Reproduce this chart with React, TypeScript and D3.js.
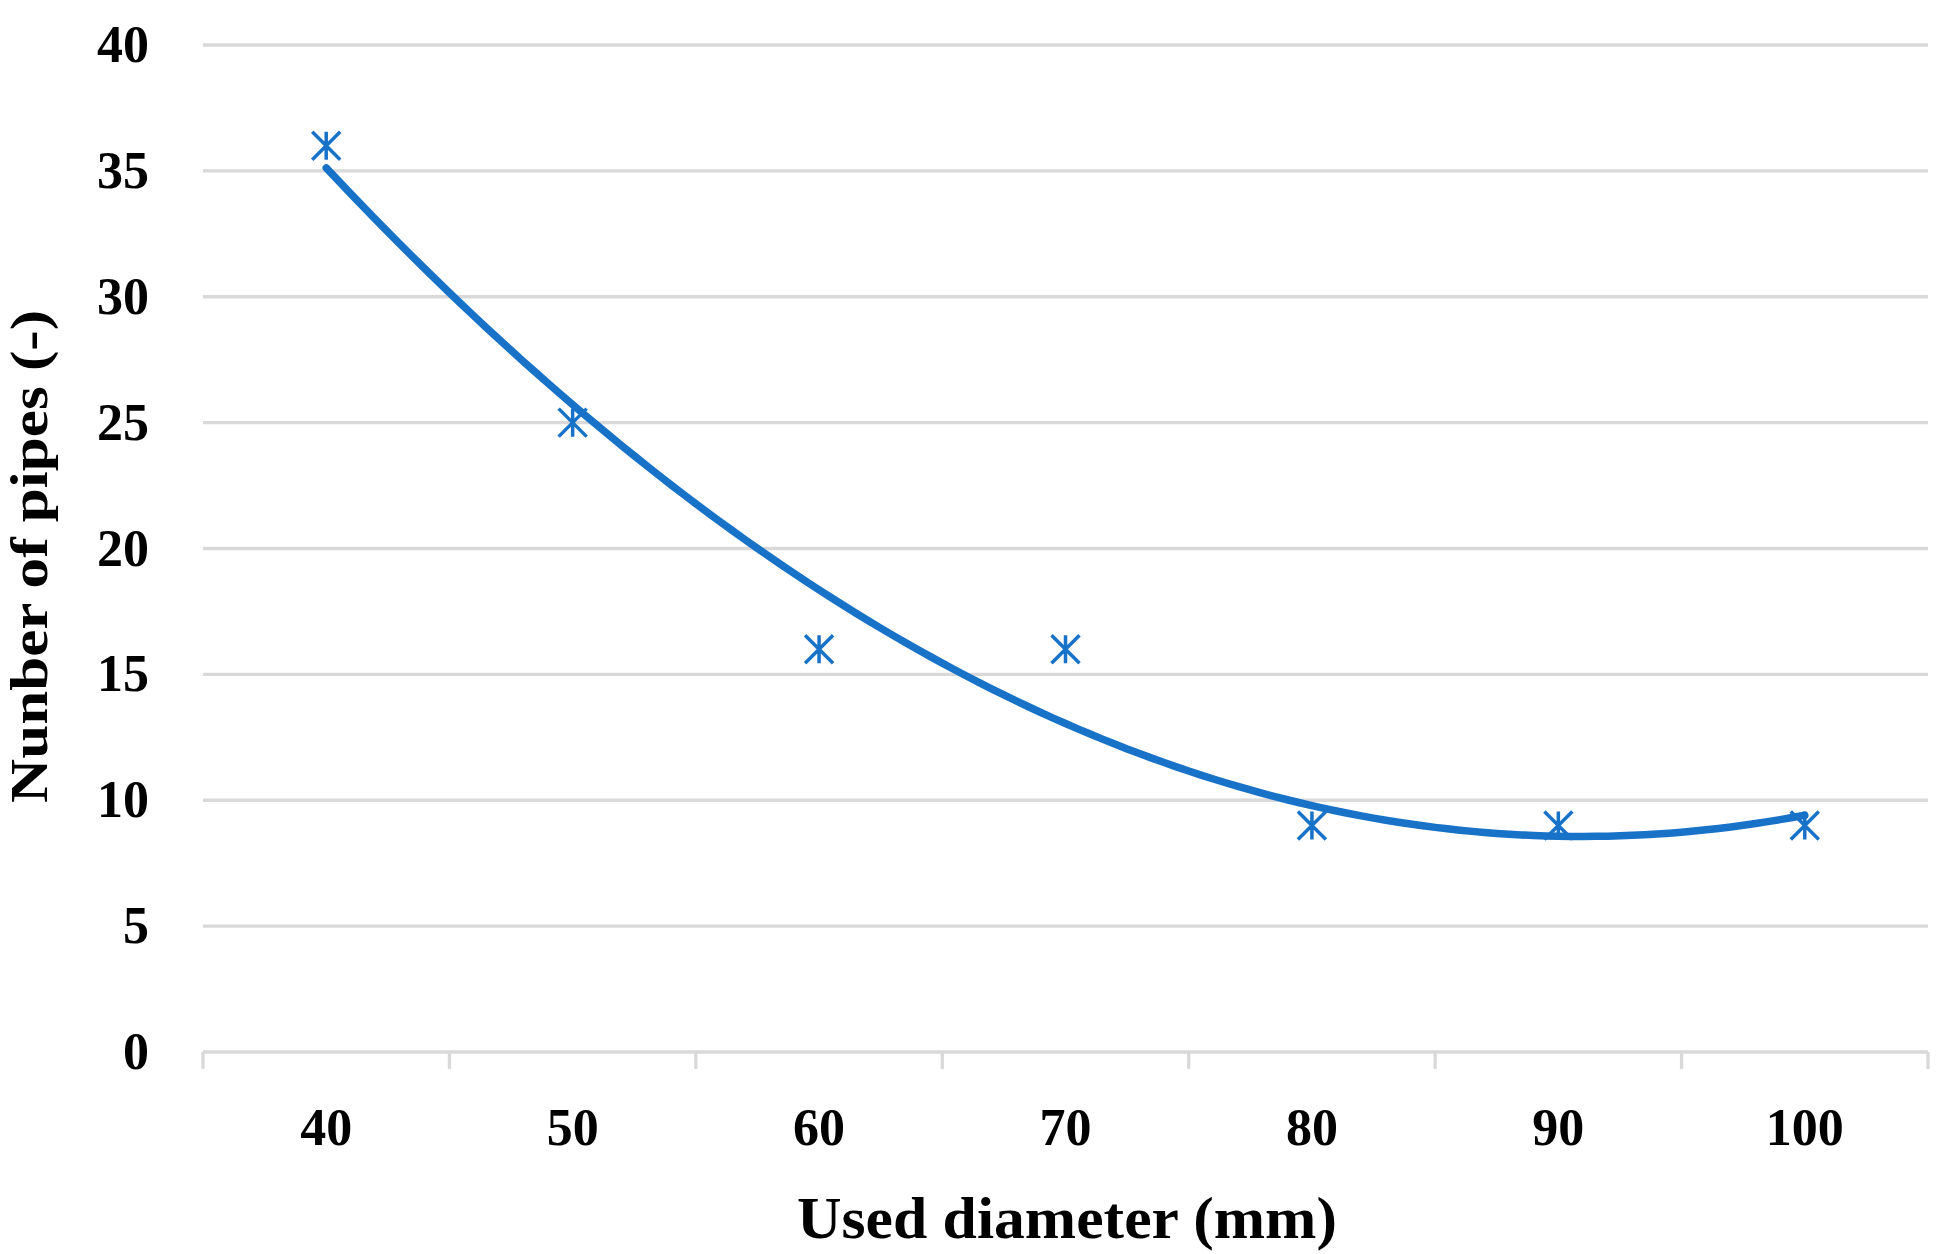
import React from "react";
import * as d3 from "d3";

const categories = ["40", "50", "60", "70", "80", "90", "100"];
const pipes = [36, 25, 16, 16, 9, 9, 9];
const yTicks = [0, 5, 10, 15, 20, 25, 30, 35, 40];
const xTitle = "Used diameter (mm)";
const yTitle = "Nunber of pipes (-)";

const W = 1943;
const H = 1254;
const left = 203;
const right = 1928;
const top = 45;
const bottom = 1052;
const BLUE = "#1872C8";
const GRID = "#D9D9D9";
const FONT = "'Liberation Serif', 'Times New Roman', serif";

// quadratic least-squares trendline (Excel polynomial order 2), x = category index 1..n
function polyFit2(ys: number[]) {
  const xs = ys.map((_, i) => i + 1);
  let s0 = 0, s1 = 0, s2 = 0, s3 = 0, s4 = 0, t0 = 0, t1 = 0, t2 = 0;
  xs.forEach((x, i) => {
    const y = ys[i];
    s0 += 1; s1 += x; s2 += x * x; s3 += x ** 3; s4 += x ** 4;
    t0 += y; t1 += x * y; t2 += x * x * y;
  });
  const M = [
    [s0, s1, s2, t0],
    [s1, s2, s3, t1],
    [s2, s3, s4, t2],
  ];
  for (let i = 0; i < 3; i++) {
    for (let k = i + 1; k < 3; k++) {
      const f = M[k][i] / M[i][i];
      for (let j = i; j < 4; j++) M[k][j] -= f * M[i][j];
    }
  }
  const c = [0, 0, 0];
  for (let i = 2; i >= 0; i--) {
    let s = M[i][3];
    for (let j = i + 1; j < 3; j++) s -= M[i][j] * c[j];
    c[i] = s / M[i][i];
  }
  return (x: number) => c[0] + c[1] * x + c[2] * x * x;
}

export default function App() {
  const x = d3.scaleBand<string>().domain(categories).range([left, right]).padding(0);
  const xi = d3.scaleLinear().domain([0.5, categories.length + 0.5]).range([left, right]);
  const y = d3.scaleLinear().domain([0, 40]).range([bottom, top]);
  const fit = polyFit2(pipes);
  const samples = d3.range(1, categories.length + 0.0001, 0.05);
  const line = d3
    .line<number>()
    .x((d) => xi(d))
    .y((d) => y(fit(d)))
    .curve(d3.curveLinear);
  const bounds = d3.range(categories.length + 1).map((i) => left + i * x.bandwidth());
  const m = 14;
  const star = `M${-m},${-m}L${m},${m}M${-m},${m}L${m},${-m}M0,${-m}V${m}`;

  return (
    <div style={{ position: "fixed", left: 0, top: 0 }}>
      <svg width={W} height={H} style={{ display: "block", background: "#fff" }}>
        {yTicks.map((t) => (
          <line key={"g" + t} x1={left} x2={right} y1={y(t)} y2={y(t)} stroke={GRID} strokeWidth={3.3} />
        ))}
        {bounds.map((b, i) => (
          <line key={"t" + i} x1={b} x2={b} y1={bottom} y2={bottom + 17} stroke={GRID} strokeWidth={3.3} />
        ))}
        {yTicks.map((t) => (
          <text
            key={"yl" + t}
            x={149}
            y={y(t) + 17}
            textAnchor="end"
            fontFamily={FONT}
            fontWeight="bold"
            fontSize={52}
            fill="#000"
          >
            {t}
          </text>
        ))}
        {categories.map((c) => (
          <text
            key={"xl" + c}
            x={(x(c) as number) + x.bandwidth() / 2}
            y={1145}
            textAnchor="middle"
            fontFamily={FONT}
            fontWeight="bold"
            fontSize={52}
            fill="#000"
          >
            {c}
          </text>
        ))}
        <path d={line(samples) || ""} fill="none" stroke={BLUE} strokeWidth={7.5} strokeLinecap="round" />
        {categories.map((c, i) => (
          <path
            key={"m" + c}
            d={star}
            transform={`translate(${(x(c) as number) + x.bandwidth() / 2},${y(pipes[i])})`}
            fill="none"
            stroke={BLUE}
            strokeWidth={3.5}
          />
        ))}
        <text
          x={1067}
          y={1238}
          textAnchor="middle"
          fontFamily={FONT}
          fontWeight="bold"
          fontSize={60}
          textLength={540}
          lengthAdjust="spacingAndGlyphs"
          fill="#000"
        >
          {xTitle}
        </text>
        <text
          transform={`translate(47,${(top + bottom) / 2 + 8}) rotate(-90)`}
          textAnchor="middle"
          fontFamily={FONT}
          fontWeight="bold"
          fontSize={53}
          textLength={493}
          lengthAdjust="spacingAndGlyphs"
          fill="#000"
        >
          {yTitle}
        </text>
      </svg>
    </div>
  );
}
